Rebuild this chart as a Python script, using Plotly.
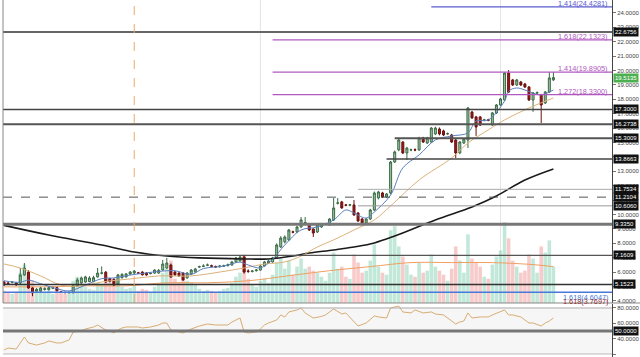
import plotly.graph_objects as go

# ---------------- data ----------------
opens = [5.32,5.25,5.30,5.25,5.25,5.81,6.01,4.90,4.69,4.69,
         4.80,4.78,4.88,4.93,4.64,4.60,4.58,4.58,5.05,5.25,
         5.32,5.35,5.35,5.67,5.92,6.00,5.55,5.50,5.18,5.62,
         5.67,5.87,5.94,5.95,6.01,5.94,5.90,5.94,5.94,6.15,
         6.29,6.50,6.01,5.94,5.94,5.60,5.88,6.01,6.36,6.40,
         6.48,6.45,6.40,6.38,6.42,6.45,6.50,6.71,6.78,7.06,
         6.08,6.05,6.10,6.15,6.43,6.64,6.71,6.99,7.75,8.10,
         8.24,8.80,8.79,9.14,9.42,9.30,9.00,8.79,9.14,9.33,
         9.28,9.63,10.78,10.88,10.67,10.65,10.67,10.11,9.69,9.42,
         9.69,10.32,11.15,11.50,11.22,11.50,13.65,14.49,15.04,14.28,
         14.48,14.50,14.49,15.32,14.97,15.04,15.60,15.94,15.81,15.60,
         15.53,15.18,14.28,14.97,15.18,17.12,16.78,16.78,16.55,16.58,
         16.22,17.06,17.61,17.96,19.83,19.35,19.00,19.21,19.07,18.86,
         17.96,18.44,18.31,17.75,18.51,19.35]
highs = [5.40,5.35,5.38,5.30,6.29,6.64,6.15,4.95,4.90,4.98,
         4.95,5.00,5.00,4.97,4.68,4.64,4.66,5.10,5.60,5.70,
         5.75,5.72,5.75,6.29,6.40,6.08,5.62,5.58,5.88,5.92,
         5.94,6.08,6.15,6.02,6.06,6.00,5.98,6.20,6.22,6.85,
         6.99,6.60,6.08,6.00,6.00,6.01,6.22,6.29,6.45,6.55,
         6.60,6.52,6.45,6.50,6.52,6.60,6.78,7.06,7.20,7.12,
         6.20,6.15,6.22,6.50,6.78,6.85,7.06,8.00,8.50,8.55,
         9.00,8.88,9.20,9.83,9.83,9.40,9.05,9.35,9.42,9.42,
         9.76,11.15,11.15,10.95,10.74,10.74,11.01,10.18,9.76,9.76,
         10.40,11.60,11.65,11.58,11.50,13.72,14.45,15.32,15.10,14.70,
         14.58,14.60,15.40,15.40,15.40,16.08,16.10,16.05,15.90,15.70,
         15.60,15.25,15.11,15.32,17.47,17.20,16.85,16.85,16.65,16.65,
         17.13,17.68,18.10,19.90,20.04,19.42,19.42,19.28,19.14,18.93,
         18.51,18.55,18.38,18.58,19.90,19.90]
lows = [5.05,5.15,5.22,5.05,5.18,5.75,4.85,4.33,4.60,4.62,
        4.72,4.72,4.82,4.66,4.58,4.54,4.52,4.52,5.00,5.18,
        5.25,5.30,5.30,5.62,5.85,5.25,5.28,5.05,5.12,5.55,
        5.62,5.80,5.88,5.88,5.76,5.75,5.85,5.88,5.90,6.10,
        6.22,5.60,5.75,5.68,5.40,5.55,5.80,5.95,6.30,6.35,
        6.42,6.38,6.30,6.32,6.36,6.40,6.45,6.64,6.72,5.90,
        5.95,5.98,6.05,6.10,6.38,6.58,6.65,6.92,7.68,8.00,
        8.17,8.70,8.72,9.08,9.35,8.86,8.44,8.72,9.08,9.28,
        9.22,9.56,10.70,10.40,10.58,10.58,9.92,9.49,9.35,9.35,
        9.62,10.25,11.05,11.15,11.15,11.40,13.58,14.40,14.20,13.79,
        14.40,14.40,14.42,14.97,14.90,14.97,15.53,15.50,15.45,15.53,
        14.97,13.93,14.20,14.90,14.62,16.65,15.46,16.15,16.48,16.48,
        16.15,16.99,17.55,17.90,18.44,18.93,18.93,18.93,18.79,17.89,
        17.13,18.37,16.36,17.68,18.44,19.28]
closes = [5.11,5.20,5.31,5.12,5.81,6.29,4.90,4.56,4.80,4.90,
          4.85,4.92,4.93,4.72,4.62,4.58,4.60,5.05,5.46,5.60,
          5.67,5.60,5.62,5.94,5.95,5.32,5.35,5.11,5.81,5.85,
          5.88,6.01,6.08,5.94,5.82,5.81,5.92,6.15,6.12,6.57,
          6.64,5.67,5.81,5.74,5.46,5.94,6.15,6.22,6.38,6.43,
          6.50,6.42,6.36,6.43,6.45,6.52,6.71,6.99,7.06,6.01,
          6.06,6.08,6.15,6.43,6.71,6.78,6.99,7.89,8.37,8.44,
          8.93,8.78,9.14,9.63,9.45,8.93,8.72,9.28,9.35,9.36,
          9.69,10.46,10.81,10.46,10.65,10.68,9.97,9.56,9.42,9.69,
          10.32,11.50,11.57,11.22,11.43,13.65,14.35,15.18,14.28,14.62,
          14.50,14.48,15.32,15.04,15.32,16.01,16.01,15.60,15.53,15.62,
          15.04,14.28,15.04,15.25,17.40,16.71,16.08,16.22,16.58,16.55,
          17.06,17.61,18.03,19.83,18.51,19.00,19.35,19.00,18.86,17.96,
          18.44,18.46,17.61,18.51,19.49,19.51]
volumes = [12,10,9,11,30,38,28,22,14,12,
           10,12,9,14,11,9,10,22,26,18,
           16,14,13,20,18,26,20,22,24,16,
           14,15,18,12,14,13,11,16,18,30,
           34,42,24,20,26,22,20,18,14,12,
           13,12,11,12,14,15,20,26,30,48,
           24,18,16,22,24,20,28,40,44,34,
           42,28,36,44,34,36,32,30,26,22,
           30,50,34,36,26,24,48,40,30,32,
           42,58,36,30,28,72,76,56,46,38,
           28,26,40,30,32,48,36,32,28,22,
           34,56,42,30,68,44,40,36,26,24,
           38,46,52,80,64,42,36,30,32,48,
           44,30,56,50,62,36]

# moving averages (read at sample candles)
ma_long_idx = [0, 11, 24, 32, 40, 48, 59, 65, 71, 75, 81, 86, 91, 96, 106, 115, 121, 128, 135]
ma_long_val = [9.25, 8.58, 7.89, 7.40, 7.12, 6.99, 6.92, 6.92, 7.12, 7.33, 7.54, 7.75, 8.03, 8.51, 9.63, 10.53, 11.29, 12.40, 13.17]
ma_mid_idx = [0, 4, 9, 14, 19, 24, 31, 38, 46, 53, 59, 64, 69, 73, 77, 81, 86, 91, 95, 102, 110, 114, 119, 123, 129, 135]
ma_mid_val = [6.57, 6.29, 5.74, 5.11, 5.04, 5.32, 5.53, 5.74, 5.74, 6.01, 6.29, 6.57, 6.71, 7.12, 7.75, 8.24, 8.93, 9.63, 10.60, 12.40, 13.93, 14.97, 15.88, 16.57, 17.40, 18.10]
ma_short_idx = [0, 4, 6, 9, 13, 16, 20, 24, 27, 31, 35, 38, 42, 46, 49, 54, 58, 60, 63, 66, 69, 73, 77, 81, 84, 86, 89, 91, 95, 98, 102, 106, 110, 114, 116, 119, 123, 124, 126, 128, 130, 132, 135]
ma_short_val = [5.40, 5.30, 5.45, 5.20, 4.85, 4.70, 5.10, 5.55, 5.60, 5.80, 5.95, 6.05, 6.10, 5.85, 6.25, 6.42, 6.70, 6.50, 6.30, 6.90, 7.89, 8.93, 9.14, 9.63, 10.32, 10.11, 9.76, 10.18, 11.36, 13.24, 14.14, 15.18, 15.46, 15.67, 16.50, 16.57, 17.89, 18.58, 18.79, 18.65, 18.44, 18.31, 18.65]
vol_ma_idx = [0, 10, 20, 30, 40, 50, 60, 70, 80, 90, 100, 110, 120, 130, 135]
vol_ma_val = [16, 16, 17, 17, 20, 20, 22, 27, 32, 36, 40, 40, 40, 38, 36]

rsi_idx = [0,1,3,5,6,8,10,11,13,14,16,17,19,20,22,23,25,26,27,28,29,30,33,34,36,38,39,40,41,42,44,45,46,48,50,52,55,56,58,59,60,62,63,64,65,67,68,69,70,72,73,74,76,78,79,81,83,84,86,87,89,91,92,94,95,97,98,100,101,103,105,106,108,109,111,112,113,114,115,117,119,120,123,124,125,127,129,130,132,133,134,135]
rsi_val = [25.2,27.8,26.5,42.2,34.4,31.7,34.4,37.0,34.4,34.4,38.3,48.7,50.0,52.6,55.2,57.8,51.3,50.0,47.4,51.3,53.9,55.2,55.2,53.9,55.2,57.8,60.4,60.4,51.3,50.0,47.4,50.0,52.6,56.5,59.1,57.8,57.8,61.7,66.9,48.7,47.4,48.7,52.6,57.8,60.4,64.3,70.9,68.3,74.8,77.4,80.0,73.5,66.9,69.0,70.9,78.7,72.2,73.5,61.7,56.5,60.4,69.6,68.3,66.9,80.0,82.6,74.8,73.5,77.4,73.5,74.8,72.2,70.9,66.9,59.1,61.7,63.0,73.5,66.9,68.3,68.3,70.9,77.4,70.9,70.9,68.3,60.4,60.4,56.5,60.4,63.0,66.9]

# horizontal price levels
level_vals = [22.6756, 17.3000, 16.2738, 15.3009, 13.8663, 11.7534, 11.2104, 10.6060, 9.3350, 7.1609, 5.1523]
level_start = [None, None, None, 96, 94, 87, None, 87, None, None, None]
level_color = ['#666', '#444', '#555', '#555', '#444', '#aaa', '#555', '#999', '#777', '#555', '#333']
level_width = [2, 1.5, 2, 2, 1.5, 1, 1, 1, 3, 1.2, 1.5]
level_dash = ['solid'] * 6 + ['dash'] + ['solid'] * 4

fib_labels = ['1.414(24.4281)', '1.618(22.1323)', '1.414(19.8905)', '1.272(18.3300)']
fib_vals = [24.4281, 22.1323, 19.8905, 18.3300]
fib_start = [105, 66, 66, 66]
fib_color = ['#5a5ad0', '#b058c0', '#b058c0', '#b058c0']

last_price = 19.5135
blue_fib_val = 4.6047
marker_idx = 32
faint_idx = [63, 122]

price_ticks = list(range(4, 25))
rsi_ticks = [20, 40, 60, 80]

# ---------------- figure ----------------
idx = list(range(len(closes)))
vol_colors = ['rgba(120,205,170,0.45)' if c >= o else 'rgba(240,140,140,0.45)'
              for o, c in zip(opens, closes)]

FONT = 'Liberation Sans, Arial, sans-serif'
X_END = 149.4
MAIN_BOTTOM = 0.1513

fig = go.Figure()
fig.add_trace(go.Bar(x=idx, y=volumes, marker=dict(color=vol_colors, line=dict(width=0)),
                     xaxis='x', yaxis='y'))
fig.add_trace(go.Scatter(x=vol_ma_idx, y=vol_ma_val, mode='lines',
                         line=dict(color='#eea060', width=1, shape='spline'), xaxis='x', yaxis='y'))
fig.add_trace(go.Scatter(x=ma_long_idx, y=ma_long_val, mode='lines',
                         line=dict(color='#1a1a1a', width=1.6, shape='spline'), xaxis='x', yaxis='y3'))
fig.add_trace(go.Scatter(x=ma_mid_idx, y=ma_mid_val, mode='lines',
                         line=dict(color='#dcb27a', width=1, shape='spline'), xaxis='x', yaxis='y3'))
fig.add_trace(go.Scatter(x=ma_short_idx, y=ma_short_val, mode='lines',
                         line=dict(color='#5b80c0', width=1, shape='spline'), xaxis='x', yaxis='y3'))
fig.add_trace(go.Candlestick(x=idx, open=opens, high=highs, low=lows, close=closes,
                             increasing=dict(fillcolor='#9fc3a5', line=dict(color='#3a6a45', width=1)),
                             decreasing=dict(fillcolor='#a01818', line=dict(color='#6a1010', width=1)),
                             xaxis='x', yaxis='y3'))
fig.add_trace(go.Scatter(x=rsi_idx, y=rsi_val, mode='lines',
                         line=dict(color='#d8ad72', width=1), xaxis='x2', yaxis='y2'))

shapes = []
# RSI background band
shapes.append(dict(type='rect', xref='x2', yref='y2', x0=-0.25, x1=X_END, y0=20, y1=80,
                   fillcolor='#f6f6f6', line=dict(width=0), layer='below'))
for v, s, c, w, d in zip(level_vals, level_start, level_color, level_width, level_dash):
    shapes.append(dict(type='line', xref='x', yref='y3', x0=-0.25 if s is None else s, x1=X_END,
                       y0=v, y1=v, line=dict(color=c, width=w, dash=d)))
for v, s, c in zip(fib_vals, fib_start, fib_color):
    shapes.append(dict(type='line', xref='x', yref='y3', x0=s, x1=X_END, y0=v, y1=v,
                       line=dict(color=c, width=1.2)))
shapes.append(dict(type='line', xref='x', yref='y3', x0=-0.25, x1=X_END, y0=blue_fib_val, y1=blue_fib_val,
                   line=dict(color='#4a78d8', width=1.5)))
for fx in faint_idx:
    shapes.append(dict(type='line', xref='x', yref='paper', x0=fx, x1=fx, y0=MAIN_BOTTOM, y1=1,
                       line=dict(color='#e4e4e4', width=1), layer='below'))
shapes.append(dict(type='line', xref='x', yref='paper', x0=marker_idx, x1=marker_idx, y0=MAIN_BOTTOM, y1=1,
                   line=dict(color='#f0a868', width=1, dash='dash')))
# RSI levels
for v, c, w in [(80, '#aaa', 1), (50, '#777', 3), (20, '#bbb', 1)]:
    shapes.append(dict(type='line', xref='x2', yref='y2', x0=-0.25, x1=X_END, y0=v, y1=v,
                       line=dict(color=c, width=w)))
# panel separator
shapes.append(dict(type='line', xref='paper', yref='paper', x0=0, x1=1.05, y0=MAIN_BOTTOM, y1=MAIN_BOTTOM,
                   line=dict(color='#888', width=1)))
# left frame
shapes.append(dict(type='line', xref='paper', yref='paper', x0=0, x1=0, y0=MAIN_BOTTOM, y1=1,
                   line=dict(color='#888', width=1)))

annotations = []
for lab, v, c in zip(fib_labels, fib_vals, fib_color):
    annotations.append(dict(xref='paper', yref='y3', x=0.997, y=v, xanchor='right', yanchor='bottom',
                            text=lab, showarrow=False, yshift=-3,
                            font=dict(family=FONT, size=7.3, color=c)))
annotations.append(dict(xref='paper', yref='y3', x=0.997, y=blue_fib_val, xanchor='right', yanchor='top',
                        text='1.618(4.6047)', showarrow=False, yshift=1,
                        font=dict(family=FONT, size=7.3, color='#4a78d8')))
annotations.append(dict(xref='paper', yref='y3', x=0.997, y=3.95, xanchor='right', yanchor='middle',
                        text='1.618(3.7697)', showarrow=False,
                        font=dict(family=FONT, size=7.3, color='#8b3030')))
for v in level_vals:
    annotations.append(dict(xref='paper', yref='y3', x=1, y=v, xanchor='left', yanchor='middle',
                            xshift=1, text=f'{v:.4f}', showarrow=False, bgcolor='#111', borderpad=1,
                            font=dict(family=FONT, size=6, color='white')))
annotations.append(dict(xref='paper', yref='y3', x=1, y=last_price, xanchor='left', yanchor='middle',
                        xshift=1, text=f'{last_price:.4f}', showarrow=False, bgcolor='#4caf50', borderpad=1,
                        font=dict(family=FONT, size=6, color='white')))
annotations.append(dict(xref='paper', yref='y2', x=1, y=50, xanchor='left', yanchor='middle',
                        xshift=1, text='50.0000', showarrow=False, bgcolor='#111', borderpad=1,
                        font=dict(family=FONT, size=6, color='white')))

fig.update_layout(
    width=640, height=357,
    margin=dict(l=3, r=28, t=0, b=0),
    paper_bgcolor='white', plot_bgcolor='white',
    showlegend=False, hovermode=False, bargap=0.12,
    xaxis=dict(domain=[0, 1], range=[-0.25, X_END], visible=False, anchor='y',
               rangeslider=dict(visible=False)),
    yaxis=dict(domain=[MAIN_BOTTOM, 1], range=[0, 300], visible=False, fixedrange=True),
    yaxis3=dict(overlaying='y', side='right', anchor='x', range=[3.861, 24.9],
                tickvals=price_ticks, tickformat='.4f', ticks='outside', ticklen=3, tickcolor='#777',
                tickfont=dict(family=FONT, size=6, color='#444'), showline=True, linecolor='#444',
                linewidth=1, showgrid=False, zeroline=False),
    xaxis2=dict(domain=[0, 1], range=[-0.25, X_END], anchor='y2', visible=False),
    yaxis2=dict(domain=[0, 0.1485], range=[16.1, 85.2], side='right', anchor='x2',
                tickvals=rsi_ticks, tickformat='.4f', ticks='outside', ticklen=3, tickcolor='#777',
                tickfont=dict(family=FONT, size=6, color='#444'), showline=True, linecolor='#444',
                linewidth=1, showgrid=False, zeroline=False),
    shapes=shapes, annotations=annotations,
)

fig.write_html('out.html', config={'displayModeBar': False},
               post_script="document.body.style.margin='0';document.body.style.overflow='hidden';")
